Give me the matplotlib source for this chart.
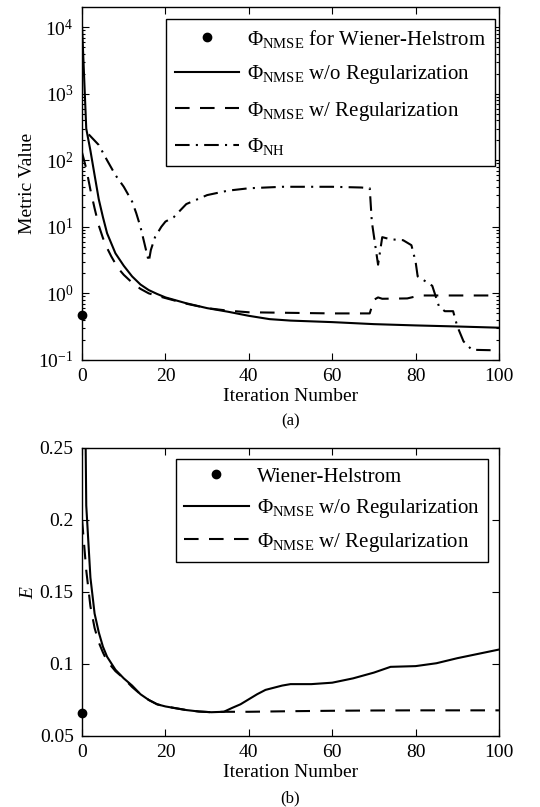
import matplotlib
matplotlib.use("Agg")
import matplotlib.pyplot as plt
from matplotlib.ticker import LogLocator, NullFormatter, MultipleLocator

plt.rcParams["font.family"] = ["Liberation Serif", "DejaVu Serif"]
plt.rcParams["mathtext.fontset"] = "custom"
plt.rcParams["mathtext.rm"] = "Liberation Serif"
plt.rcParams["mathtext.it"] = "Liberation Serif:italic"
plt.rcParams["mathtext.bf"] = "Liberation Serif:bold"

# (a) metric value per iteration
wh_nmse = 0.47

noreg_x = [0, 1, 2, 3, 4, 5, 6, 8, 10, 12, 14, 16, 18, 20, 25, 30, 35, 40, 45, 50,
           60, 70, 80, 90, 100]
noreg_y = [1e4, 300, 140, 60, 26, 14, 8.0, 4.0, 2.6, 1.8, 1.36, 1.12, 0.98, 0.87, 0.71,
           0.6, 0.53, 0.46, 0.41, 0.39, 0.37, 0.345, 0.33, 0.318, 0.305]

reg_x = [0, 1, 2, 3, 4, 5, 6, 7, 8, 9, 10, 12, 14, 16, 18, 20, 25, 30, 35, 40, 50,
         60, 69, 70, 71, 72, 78, 81, 100]
reg_y = [130, 75, 36, 19, 10.5, 6.8, 4.8, 3.6, 2.8, 2.25, 1.9, 1.45, 1.17, 1.0, 0.92,
         0.85, 0.7, 0.6, 0.55, 0.52, 0.51, 0.5, 0.5, 0.8, 0.87, 0.83, 0.84, 0.93, 0.93]

nh_x = [1.6, 4, 6, 8, 10, 12, 13, 14, 15, 16, 16.5, 17.5, 19, 20, 22, 25, 30, 35, 40,
        48, 60, 67, 69, 69.5, 71, 72, 74, 77, 79, 80, 80.5, 82.5, 84, 85.6, 87, 89,
        90, 91.5, 93.5, 98]
nh_y = [245, 170, 100, 60, 40, 24, 16, 10, 5.5, 3.0, 4.5, 7, 10, 12, 14, 22, 30, 35,
        38, 40, 40, 39, 38, 12, 2.7, 7, 6.5, 6.3, 5.3, 3.0, 1.8, 1.5, 1.3, 0.64, 0.54,
        0.54, 0.32, 0.19, 0.142, 0.14]

# (b) E per iteration
wh_e = 0.0662

e_noreg_x = [0, 1, 2, 3, 4, 5, 6, 8, 10, 12, 14, 16, 18, 20, 22, 25, 28, 31, 34, 36,
             38, 40, 42, 44, 46, 48, 50, 55, 60, 65, 70, 74, 80, 85, 90, 95, 100]
e_noreg_y = [0.5, 0.21, 0.16, 0.135, 0.122, 0.112, 0.105, 0.096, 0.09, 0.085, 0.079,
             0.075, 0.072, 0.0705, 0.0695, 0.068, 0.067, 0.0665, 0.0668, 0.0695,
             0.072, 0.0755, 0.079, 0.082, 0.0835, 0.085, 0.086, 0.086, 0.087, 0.09,
             0.094, 0.098, 0.0985, 0.1005, 0.104, 0.107, 0.11]

e_reg_x = [0, 1, 2, 3, 4, 5, 6, 8, 10, 12, 14, 16, 18, 20, 22, 25, 28, 31, 34, 40, 50,
           60, 70, 80, 90, 100]
e_reg_y = [0.2, 0.165, 0.14, 0.125, 0.115, 0.108, 0.102, 0.095, 0.09, 0.084, 0.079,
           0.075, 0.072, 0.0705, 0.0695, 0.068, 0.067, 0.0665, 0.0668, 0.0668, 0.0672,
           0.0675, 0.0677, 0.0678, 0.0678, 0.0678]

LW = 1.5
DASH = (7, 5)
DASHDOT = (7, 3, 1, 3)
FS = 14
LEG_FS = 15

fig = plt.figure(figsize=(5.4, 8.07), dpi=100)
ax1 = fig.add_axes([0.152, 0.554, 0.772, 0.437])
ax2 = fig.add_axes([0.152, 0.088, 0.772, 0.357])


def style_axes(ax):
    ax.tick_params(which="both", direction="in", top=True, right=True,
                   labelsize=FS, width=0.8)
    ax.tick_params(which="major", length=5, pad=6)
    ax.tick_params(which="minor", length=2.5)
    for s in ax.spines.values():
        s.set_linewidth(1.0)
    ax.set_xlim(0, 100)
    ax.xaxis.set_major_locator(MultipleLocator(20))


def add_legend(ax, anchor, spacing):
    leg = ax.legend(loc="upper right", bbox_to_anchor=anchor, borderaxespad=0,
                    fontsize=LEG_FS, fancybox=False, framealpha=1, edgecolor="k",
                    handlelength=3.1, handletextpad=0.4, labelspacing=spacing,
                    borderpad=0.4)
    leg.get_frame().set_linewidth(1.0)
    return leg


ax1.plot([0], [wh_nmse], "o", color="k", ms=6, clip_on=False,
         label=r"$\Phi_{\mathrm{NMSE}}$ for Wiener-Helstrom")
ax1.plot(noreg_x, noreg_y, "-", color="k", lw=LW,
         label=r"$\Phi_{\mathrm{NMSE}}$ w/o Regularization")
ax1.plot(reg_x, reg_y, "--", color="k", lw=LW, dashes=DASH,
         label=r"$\Phi_{\mathrm{NMSE}}$ w/ Regularization")
ax1.plot(nh_x, nh_y, "-.", color="k", lw=LW, dashes=DASHDOT,
         label=r"$\Phi_{\mathrm{NH}}$")
ax1.set_yscale("log")
ax1.set_ylim(0.1, 10 ** 4.3)
ax1.yaxis.set_major_locator(LogLocator(base=10, numticks=10))
ax1.yaxis.set_minor_locator(LogLocator(base=10, subs=range(2, 10), numticks=10))
ax1.yaxis.set_minor_formatter(NullFormatter())
style_axes(ax1)
ax1.set_xlabel("Iteration Number", fontsize=FS, labelpad=2)
ax1.set_ylabel("Metric Value", fontsize=FS, labelpad=2)
add_legend(ax1, (0.99, 0.966), 0.65)

ax2.plot([0], [wh_e], "o", color="k", ms=6, clip_on=False, label="Wiener-Helstrom")
ax2.plot(e_noreg_x, e_noreg_y, "-", color="k", lw=LW,
         label=r"$\Phi_{\mathrm{NMSE}}$ w/o Regularization")
ax2.plot(e_reg_x, e_reg_y, "--", color="k", lw=LW, dashes=DASH,
         label=r"$\Phi_{\mathrm{NMSE}}$ w/ Regularization")
ax2.set_ylim(0.05, 0.25)
ax2.set_yticks([0.05, 0.1, 0.15, 0.2, 0.25])
ax2.set_yticklabels(["0.05", "0.1", "0.15", "0.2", "0.25"])
style_axes(ax2)
ax2.set_xlabel("Iteration Number", fontsize=FS, labelpad=2)
ax2.set_ylabel(r"$E$", fontsize=FS, labelpad=2)
add_legend(ax2, (0.974, 0.962), 0.5)

xc = 0.152 + 0.772 / 2
fig.text(xc, 1 - 421 / 807, "(a)", ha="center", va="center", fontsize=12)
fig.text(xc, 1 - 798 / 807, "(b)", ha="center", va="center", fontsize=12)

fig.savefig("out.png", dpi=100)
